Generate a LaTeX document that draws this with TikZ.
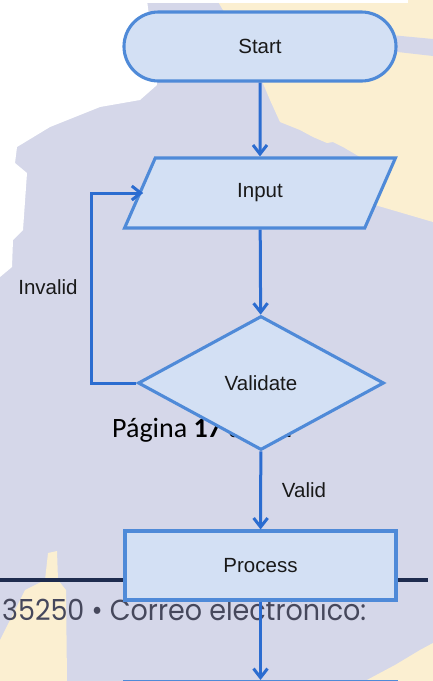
\documentclass[tikz,border=0pt]{standalone}
\usepackage{fontspec}
\setmainfont{Liberation Sans}
\newfontfamily\footfont{Carlito}
\newfontfamily\addrfont{Poppins}
\usetikzlibrary{shapes.geometric,arrows.meta}

\definecolor{paper}{HTML}{D5D7E9}
\definecolor{sand}{HTML}{FBEFD1}
\definecolor{boxfill}{HTML}{D3E0F4}
\definecolor{boxline}{HTML}{4F8AD8}
\definecolor{flow}{HTML}{2B6CD0}
\definecolor{rulecol}{HTML}{1E2B4E}
\definecolor{addr}{HTML}{46485C}

\begin{document}
\begin{tikzpicture}[x=1pt,y=-1pt,
  shapebox/.style={draw=boxline, fill=boxfill, line width=3.1pt,
    font=\fontsize{20.5}{24}\selectfont, text=black!90, inner sep=0pt},
  terminal/.style={shapebox, rectangle, rounded corners=34.5pt,
    minimum width=272pt, minimum height=69pt},
  io/.style={shapebox, trapezium, trapezium left angle=70,
    trapezium right angle=110, trapezium stretches=true,
    minimum width=272pt, minimum height=70pt},
  decision/.style={shapebox, diamond, minimum width=246pt, minimum height=134pt},
  procbox/.style={shapebox, rectangle, minimum width=271pt, minimum height=69pt},
  flowline/.style={draw=flow, line width=3pt,
    -{Straight Barb[length=9pt,width=14pt]}},
  flowlabel/.style={font=\fontsize{20.5}{24}\selectfont, text=black!90, inner sep=0pt}
]
\clip (0,0) rectangle (433,681);

% page background
\fill[paper] (0,0) rectangle (433,681);
\fill[white] (0,0) -- (147,0) -- (152,40) -- (157,85) -- (140,100) -- (100,107)
  -- (50,127) -- (17,147) -- (15,163) -- (27,173) -- (23,230) -- (13,240)
  -- (12,267) -- (0,277) -- cycle;
\fill[sand] (217,0) -- (433,0) -- (433,222) -- (375,205) -- (360,157) -- (343,147)
  -- (333,142) -- (327,143) -- (313,137) -- (300,130) -- (280,122) -- (270,100)
  -- (262,81) -- (232,25) -- cycle;
\fill[paper] (380,34) -- (433,39) -- (433,56) -- (380,50) -- cycle;
\fill[white] (0,0) rectangle (408,3);
\fill[sand] (48,553) -- (57,551) -- (58,580) -- (66,590) -- (67,681) -- (0,681)
  -- (0,640) -- (10,620) -- (25,590) -- (45,580) -- cycle;
\fill[sand] (365,681) -- (395,665) -- (420,650) -- (433,643) -- (433,681) -- cycle;
\draw[rulecol, line width=3.5pt] (0,580) -- (428,580);
\node[anchor=base west, inner sep=0pt, font=\footfont\fontsize{28}{32}\selectfont]
  (pagenum) at (112,437) {Página \textbf{17} de \textbf{21}};
\node[anchor=base west, inner sep=0pt, text=addr, font=\addrfont\fontsize{29}{33}\selectfont]
  (address) at (2,620) {\scalebox{0.93}[1]{35250 • Correo electrónico:}};

% flowchart
\node[terminal] (start) at (260,46.5) {Start};
\node[io] (inp) at (260,193) {Input};
\node[decision] (val) at (261,383) {Validate};
\node[procbox] (proc) at (260.5,565.5) {Process};
\node[procbox, anchor=north] (next) at (260.5,680) {};

\draw[flowline] (start) -- (inp);
\draw[flowline] (inp) -- (val);
\draw[flowline, shorten >=-5pt] (val.west) -- ++(-45,0) |- (inp.west);
\draw[flowline] (val) -- (proc);
\draw[flowline] (proc) -- (next);

\node[flowlabel] (lblinvalid) at (48,287) {Invalid};
\node[flowlabel] (lblvalid) at (304,490) {Valid};
\end{tikzpicture}
\end{document}
